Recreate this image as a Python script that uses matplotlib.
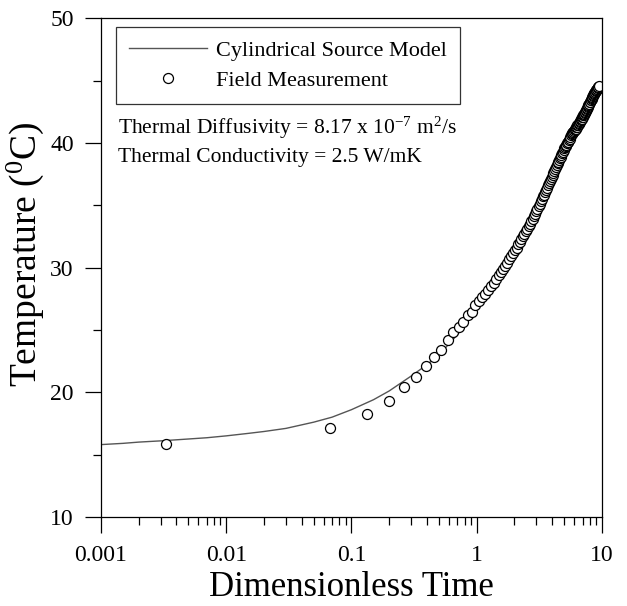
import matplotlib
matplotlib.use("Agg")
import matplotlib.pyplot as plt
from matplotlib.ticker import FixedLocator, LogLocator, FuncFormatter, NullFormatter

plt.rcParams['font.family'] = ['Liberation Serif', 'DejaVu Serif']
plt.rcParams['mathtext.fontset'] = 'custom'
plt.rcParams['mathtext.rm'] = 'Liberation Serif'
plt.rcParams['mathtext.it'] = 'Liberation Serif:italic'

# cylindrical source model curve
model_t = [0.001, 0.0015, 0.002, 0.003, 0.005, 0.007, 0.01, 0.015, 0.02, 0.03,
           0.05, 0.07, 0.1, 0.15, 0.2, 0.3, 0.4, 0.5, 0.7, 1.0, 1.5, 2.0,
           2.5, 3.0, 4.0, 5.0, 6.0, 7.0, 8.0, 9.4]
model_T = [15.8, 15.9, 16.0, 16.1, 16.25, 16.35, 16.5, 16.7, 16.85, 17.1,
           17.6, 18.0, 18.6, 19.4, 20.1, 21.3, 22.2, 23.0, 24.6, 26.6, 29.1, 31.0,
           32.6, 34.1, 36.8, 39.0, 40.8, 42.2, 43.3, 44.3]

# field measurements
meas_t = [
    0.0033, 0.068, 0.133, 0.198, 0.263, 0.328, 0.393, 0.458, 0.523, 0.588,
    0.653, 0.718, 0.783, 0.848, 0.913, 0.978, 1.043, 1.108, 1.173, 1.238,
    1.303, 1.368, 1.433, 1.498, 1.563, 1.628, 1.693, 1.758, 1.823, 1.888,
    1.953, 2.018, 2.083, 2.148, 2.213, 2.278, 2.343, 2.408, 2.473, 2.538,
    2.603, 2.668, 2.733, 2.798, 2.863, 2.928, 2.993, 3.058, 3.123, 3.188,
    3.253, 3.318, 3.383, 3.448, 3.513, 3.578, 3.643, 3.708, 3.773, 3.838,
    3.903, 3.968, 4.033, 4.098, 4.163, 4.228, 4.293, 4.358, 4.423, 4.488,
    4.553, 4.618, 4.683, 4.748, 4.813, 4.878, 4.943, 5.008, 5.073, 5.138,
    5.203, 5.268, 5.333, 5.398, 5.463, 5.528, 5.593, 5.658, 5.723, 5.788,
    5.853, 5.918, 5.983, 6.048, 6.113, 6.178, 6.243, 6.308, 6.373, 6.438,
    6.503, 6.568, 6.633, 6.698, 6.763, 6.828, 6.893, 6.958, 7.023, 7.088,
    7.153, 7.218, 7.283, 7.348, 7.413, 7.478, 7.543, 7.608, 7.673, 7.738,
    7.803, 7.868, 7.933, 7.998, 8.063, 8.128, 8.193, 8.258, 8.323, 8.388,
    8.453, 8.518, 8.583, 8.648, 8.713, 8.778, 8.843, 8.908, 8.973, 9.038,
    9.103, 9.168, 9.233, 9.298, 9.363, 9.428,
]
meas_T = [
    15.85, 17.15, 18.25, 19.3, 20.4, 21.2, 22.1, 22.8, 23.4, 24.2,
    24.8, 25.2, 25.65, 26.2, 26.4, 27.0, 27.3, 27.6, 27.9, 28.2,
    28.5, 28.8, 29.1, 29.4, 29.65, 29.9, 30.15, 30.4, 30.65, 30.9,
    31.15, 31.4, 31.6, 31.85, 32.05, 32.3, 32.5, 32.7, 32.9, 33.1,
    33.3, 33.5, 33.7, 33.9, 34.1, 34.3, 34.5, 34.7, 34.9, 35.1,
    35.3, 35.5, 35.7, 35.85, 36.05, 36.25, 36.4, 36.6, 36.75, 36.95,
    37.1, 37.3, 37.45, 37.6, 37.75, 37.9, 38.05, 38.2, 38.35, 38.5,
    38.65, 38.8, 38.9, 39.05, 39.2, 39.3, 39.45, 39.55, 39.65, 39.75,
    39.85, 39.95, 40.05, 40.1, 40.2, 40.3, 40.45, 40.6, 40.7, 40.8,
    40.85, 40.9, 40.95, 41.0, 41.1, 41.15, 41.25, 41.3, 41.4, 41.45,
    41.5, 41.6, 41.65, 41.75, 41.8, 41.9, 41.95, 42.05, 42.1, 42.2,
    42.25, 42.35, 42.4, 42.5, 42.55, 42.65, 42.7, 42.8, 42.85, 42.95,
    43.0, 43.1, 43.15, 43.25, 43.3, 43.4, 43.45, 43.55, 43.6, 43.7,
    43.75, 43.8, 43.9, 43.95, 44.0, 44.05, 44.1, 44.15, 44.2, 44.25,
    44.3, 44.35, 44.4, 44.45, 44.5, 44.55,
]

x_ticks = [0.001, 0.01, 0.1, 1, 10]
y_ticks = [10, 20, 30, 40, 50]
y_minor = [15, 25, 35, 45]

fig = plt.figure(figsize=(6.27, 6.06), dpi=100)
ax = fig.add_axes([0.161, 0.147, 0.799, 0.823])

ax.plot(model_t, model_T, color='#555555', lw=1.0, label='Cylindrical Source Model')
ax.plot(meas_t, meas_T, ls='none', marker='o', ms=7.2, mfc='white', mec='black',
        mew=0.9, label='Field Measurement')

ax.set_xscale('log')
ax.set_xlim(0.001, 10)
ax.set_ylim(10, 50)
ax.xaxis.set_major_locator(FixedLocator(x_ticks))
ax.xaxis.set_minor_locator(LogLocator(base=10, subs=range(2, 10)))
ax.xaxis.set_major_formatter(FuncFormatter(lambda v, p: '%g' % v))
ax.xaxis.set_minor_formatter(NullFormatter())
ax.yaxis.set_major_locator(FixedLocator(y_ticks))
ax.yaxis.set_minor_locator(FixedLocator(y_minor))

ax.tick_params(which='major', direction='out', length=11.5, width=0.9, labelsize=17)
ax.tick_params(axis='x', which='major', pad=9)
ax.tick_params(axis='y', which='major', pad=8)
ax.tick_params(which='minor', direction='out', length=6, width=0.9)
ax.tick_params(top=False, right=False)
for s in ax.spines.values():
    s.set_linewidth(0.9)

ax.set_xlabel('Dimensionless Time', fontsize=25, labelpad=3)
ax.set_ylabel('Temperature ($^0$C)', fontsize=27)
ax.yaxis.set_label_coords(-0.11, 0.527)

leg = ax.legend(loc='upper left', bbox_to_anchor=(0.03, 0.982), fontsize=16,
                frameon=True, fancybox=False, handlelength=3.5,
                borderaxespad=0, borderpad=0.6, labelspacing=0.42,
                handletextpad=0.4)
leg.get_frame().set_edgecolor('black')
leg.get_frame().set_linewidth(0.9)

ax.text(0.034, 0.78, 'Thermal Diffusivity = 8.17 x 10$^{-7}$ m$^2$/s',
        transform=ax.transAxes, fontsize=15.5, va='center', ha='left')
ax.text(0.034, 0.72, 'Thermal Conductivity = 2.5 W/mK',
        transform=ax.transAxes, fontsize=15.5, va='center', ha='left')

fig.savefig('out.png', dpi=100)
